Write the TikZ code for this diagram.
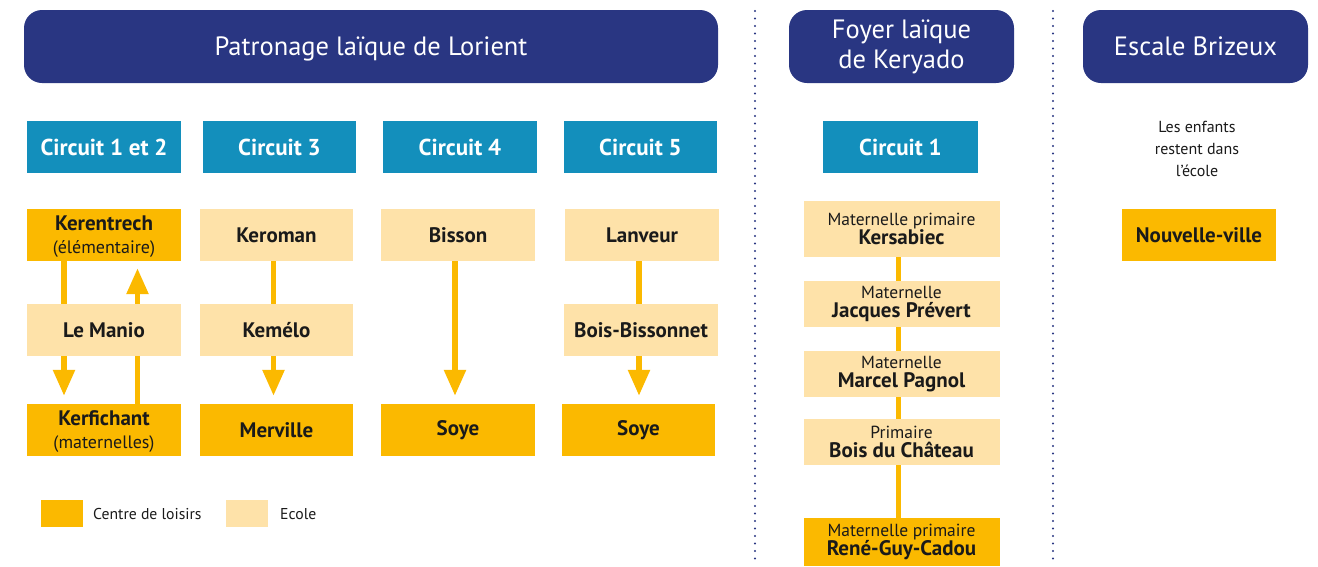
\documentclass[tikz,border=0pt]{standalone}
\usepackage{fontspec}
\setmainfont{PT Sans}
\usetikzlibrary{arrows.meta}
\definecolor{cnavy}{HTML}{293682}
\definecolor{cteal}{HTML}{138FBC}
\definecolor{cdark}{HTML}{FBB900}
\definecolor{clight}{HTML}{FEE2A9}
\definecolor{cink}{HTML}{1A1A1A}
\newcommand\myfs[2]{\fontsize{#1}{#2}\selectfont}
\begin{document}
\begin{tikzpicture}[x=1pt,y=-1pt,
  hdr/.style={fill=cnavy, rounded corners=18pt, text=white, font=\myfs{26.5}{30}, align=center, inner sep=0pt, minimum height=73pt},
  circ/.style={fill=cteal, text=white, font=\myfs{23}{24}\bfseries, minimum height=52pt, inner sep=0pt},
  sbox/.style={minimum height=52pt, inner sep=0pt, align=center, text=cink, font=\myfs{21}{23}\bfseries},
  cdl/.style={sbox, fill=cdark},
  eco/.style={sbox, fill=clight},
  colbox/.style={minimum width=196pt, inner sep=0pt, align=center, text=cink, font=\myfs{17.5}{19}},
  conn/.style={draw=cdark, line width=5.5pt},
  arr/.style={conn, -{Triangle[width=21pt,length=26pt]}},
  sep/.style={draw=cnavy, line width=2.2pt, line cap=round, dash pattern=on 0pt off 7.5pt},
  leg/.style={font=\myfs{15.7}{18}, text=cink, anchor=west, inner sep=0pt}
]
\useasboundingbox (0,0) rectangle (1318,566);

% headers
\node[hdr, minimum width=694pt, text depth=0pt] (P) at (371,46.5) {Patronage laïque de Lorient};
\node[hdr, minimum width=225pt] (F) at (901.5,46.5) {Foyer laïque\\de Keryado};
\node[hdr, minimum width=225pt] (E) at (1195.5,46.5) {Escale Brizeux};

% separators
\coordinate (s1a) at (755,11); \coordinate (s1b) at (755,560);
\coordinate (s2a) at (1053,11); \coordinate (s2b) at (1053,560);
\draw[sep] (s1a) -- (s1b);
\draw[sep] (s2a) -- (s2b);

% circuits
\node[circ, minimum width=154pt] (c12) at (104,147) {Circuit 1 et 2};
\node[circ, minimum width=153pt] (c3) at (279.5,147) {Circuit 3};
\node[circ, minimum width=154pt] (c4) at (460,147) {Circuit 4};
\node[circ, minimum width=153pt] (c5) at (640.5,147) {Circuit 5};
\node[circ, minimum width=155pt] (cc1) at (900.5,147) {Circuit 1};

% circuit 1 et 2
\node[cdl, minimum width=154pt, text depth=0pt] (k1) at (104,235) {Kerentrech\\{\mdseries\myfs{18}{23}(élémentaire)}};
\node[eco, minimum width=154pt] (m1) at (104,330) {Le Manio};
\node[cdl, minimum width=154pt, text depth=0pt] (f1) at (104,430) {Kerfichant\\{\mdseries\myfs{18}{23}(maternelles)}};
\draw[conn] ([xshift=-40pt]k1.south) -- ([xshift=-40pt]m1.north);
\draw[arr] ([xshift=-40pt]m1.south) -- ([xshift=-40pt,yshift=8pt]f1.north);
\draw[conn] ([xshift=33.5pt]f1.north) -- ([xshift=33.5pt]m1.south);
\draw[arr] ([xshift=33.5pt]m1.north) -- ([xshift=33.5pt,yshift=-7pt]k1.south);

% circuit 3
\node[eco, minimum width=153pt] (k3) at (276.5,235) {Keroman};
\node[eco, minimum width=153pt] (m3) at (276.5,330) {Kemélo};
\node[cdl, minimum width=153pt] (v3) at (276.5,430) {Merville};
\draw[conn] ([xshift=-3pt]k3.south) -- ([xshift=-3pt]m3.north);
\draw[arr] ([xshift=-3pt]m3.south) -- ([xshift=-3pt,yshift=8pt]v3.north);

% circuit 4
\node[eco, minimum width=154pt] (b4) at (458,235) {Bisson};
\node[cdl, minimum width=154pt] (s4) at (458,430) {Soye};
\draw[arr] ([xshift=-3pt]b4.south) -- ([xshift=-3pt,yshift=8pt]s4.north);

% circuit 5
\node[eco, minimum width=154pt] (l5) at (642,235) {Lanveur};
\node[eco, minimum width=154pt] (bb5) at (641,330) {Bois-Bissonnet};
\node[cdl, minimum width=153pt] (s5) at (638.5,430) {Soye};
\draw[conn] ([xshift=-3pt]l5.south) -- ([xshift=-2pt]bb5.north);
\draw[arr] ([xshift=-2pt]bb5.south) -- ([xshift=0.5pt,yshift=8pt]s5.north);

% Foyer circuit 1 column
\node[colbox, fill=clight, minimum height=56pt] (ks) at (901.5,229) {Maternelle primaire\\{\bfseries\myfs{21}{19}Kersabiec}};
\node[colbox, fill=clight, minimum height=46pt] (jp) at (901.5,304) {Maternelle\\{\bfseries\myfs{21}{19}Jacques Prévert}};
\node[colbox, fill=clight, minimum height=46pt] (mp) at (901.5,374) {Maternelle\\{\bfseries\myfs{21}{19}Marcel Pagnol}};
\node[colbox, fill=clight, minimum height=46pt] (bc) at (901.5,442) {Primaire\\{\bfseries\myfs{21}{19}Bois du Château}};
\node[colbox, fill=cdark, minimum height=48pt] (rg) at (901.5,542) {Maternelle primaire\\{\bfseries\myfs{21}{19}René-Guy-Cadou}};
\begin{scope}[line width=5pt]
\draw[draw=cdark] ([xshift=-3.5pt]ks.south) -- ([xshift=-3.5pt]jp.north);
\draw[draw=cdark] ([xshift=-3.5pt]jp.south) -- ([xshift=-3.5pt]mp.north);
\draw[draw=cdark] ([xshift=-3.5pt]mp.south) -- ([xshift=-3.5pt]bc.north);
\draw[draw=cdark] ([xshift=-3.5pt]bc.south) -- ([xshift=-3.5pt]rg.north);
\end{scope}

% Escale Brizeux
\node[align=center, text=cink, font=\myfs{16}{22}, inner sep=0pt] (txt) at (1197,149) {Les enfants\\restent dans\\l’école};
\node[cdl, minimum width=154pt] (nv) at (1199,235) {Nouvelle-ville};

% legend
\node[fill=cdark, minimum width=42pt, minimum height=27pt, inner sep=0pt] (lg1) at (61.5,513.5) {};
\node[leg] (lt1) at (93,514) {Centre de loisirs};
\node[fill=clight, minimum width=42pt, minimum height=27pt, inner sep=0pt] (lg2) at (247,513.5) {};
\node[leg] (lt2) at (280,514) {Ecole};
\end{tikzpicture}
\end{document}
